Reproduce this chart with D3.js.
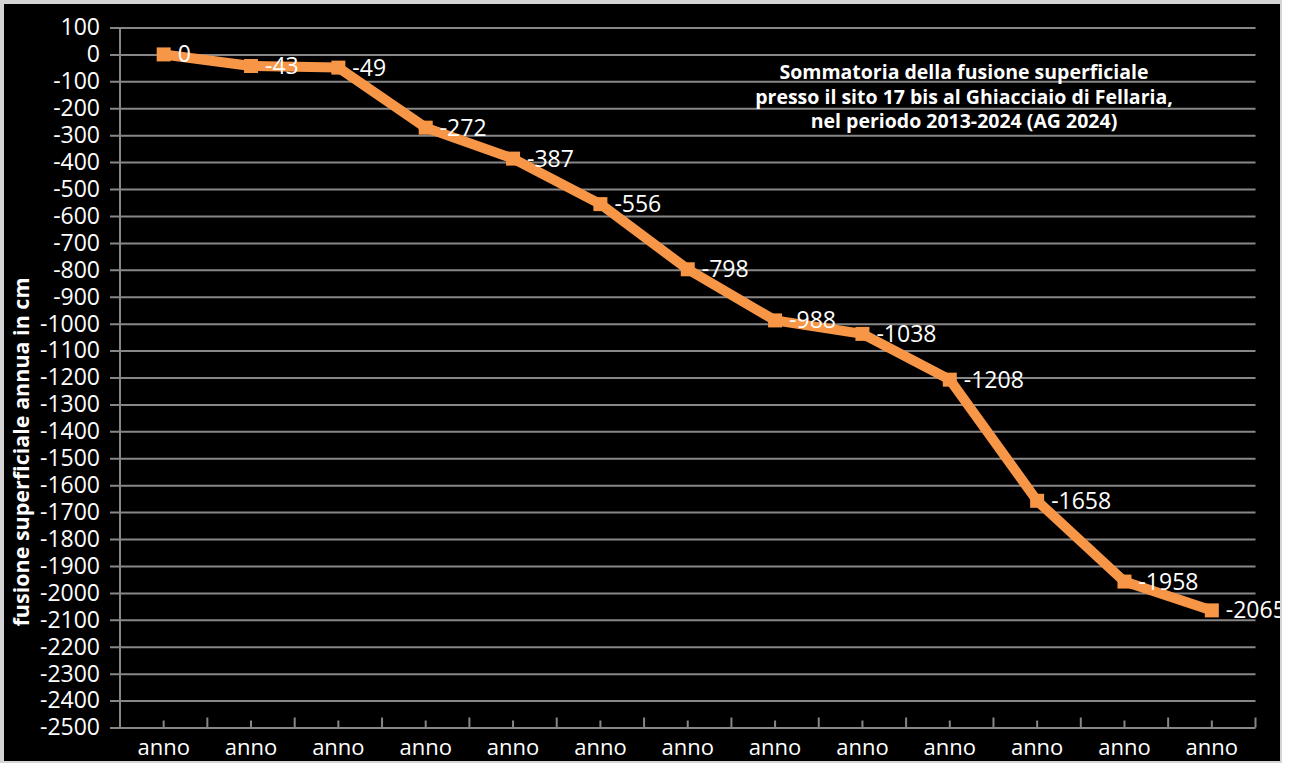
<!DOCTYPE html>
<html lang="it">
<head>
  <meta charset="UTF-8">
  <title>Sommatoria della fusione superficiale - Fellaria</title>
  <script src="https://d3js.org/d3.v7.min.js"></script>
  <style>
    html, body { margin: 0; padding: 0; background: #ffffff; }
    svg { display: block; }
    text { font-family: "Open Sans", "Liberation Sans", sans-serif; fill: #ffffff; }
  </style>
</head>
<body>
<script>
  // categories and values (cumulative surface melt, cm)
  const categories = ['anno', 'anno', 'anno', 'anno', 'anno', 'anno', 'anno',
                      'anno', 'anno', 'anno', 'anno', 'anno', 'anno'];
  const values = [0, -43, -49, -272, -387, -556, -798, -988, -1038, -1208, -1658, -1958, -2065];
  const yTicks = d3.range(100, -2501, -100);
  const titleLines = [
    'Sommatoria della fusione superficiale',
    'presso il sito 17 bis al Ghiacciaio di Fellaria,',
    'nel periodo 2013-2024 (AG 2024)'
  ];
  const yTitle = 'fusione superficiale annua in cm';

  const W = 1293, H = 763;
  const plot = { left: 120, right: 1255.5, top: 27.5, bottom: 727.5 };
  const orange = '#F79646';
  const gridColor = '#878787';
  const fmt = d => String(d); // plain hyphen, as in the original

  const svg = d3.select('body').append('svg')
    .attr('width', W)
    .attr('height', H);

  // frame
  svg.append('rect')
    .attr('x', 0).attr('y', 0)
    .attr('width', 1282).attr('height', H)
    .attr('fill', '#d4d4d4');
  svg.append('rect')
    .attr('x', 4).attr('y', 4)
    .attr('width', 1276).attr('height', 757)
    .attr('fill', '#000000');

  const x = d3.scaleBand()
    .domain(d3.range(categories.length))
    .range([plot.left, plot.right]);
  const y = d3.scaleLinear()
    .domain([-2500, 100])
    .range([plot.bottom, plot.top]);

  // y axis with gridlines
  const yAxis = svg.append('g')
    .attr('transform', `translate(${plot.left},0)`)
    .call(d3.axisLeft(y).tickValues(yTicks).tickSize(10).tickPadding(10).tickFormat(fmt));
  yAxis.select('.domain').remove();
  yAxis.selectAll('.tick line')
    .attr('stroke', gridColor)
    .attr('stroke-width', 2)
    .attr('x2', plot.right - plot.left)
    .attr('x1', -10);
  yAxis.selectAll('.tick text')
    .style('font-size', '23px')
    .attr('fill', '#ffffff');

  // vertical axis line
  svg.append('line')
    .attr('x1', plot.left).attr('x2', plot.left)
    .attr('y1', y(100)).attr('y2', y(-2500))
    .attr('stroke', gridColor).attr('stroke-width', 2);

  // x axis: ticks at category boundaries and centres
  const xg = svg.append('g');
  const bounds = d3.range(categories.length + 1).map(i => plot.left + i * x.bandwidth());
  xg.selectAll('line.b')
    .data(bounds.slice(1))
    .enter().append('line')
    .attr('x1', d => d).attr('x2', d => d)
    .attr('y1', y(-2500)).attr('y2', y(-2500) - 10)
    .attr('stroke', gridColor).attr('stroke-width', 2);
  xg.selectAll('line.c')
    .data(categories)
    .enter().append('line')
    .attr('x1', (d, i) => x(i) + x.bandwidth() / 2)
    .attr('x2', (d, i) => x(i) + x.bandwidth() / 2)
    .attr('y1', y(-2500)).attr('y2', y(-2500) - 7)
    .attr('stroke', gridColor).attr('stroke-width', 2);
  xg.selectAll('text')
    .data(categories)
    .enter().append('text')
    .attr('x', (d, i) => x(i) + x.bandwidth() / 2)
    .attr('y', 747)
    .attr('dy', '0.35em')
    .attr('text-anchor', 'middle')
    .style('font-size', '22px')
    .text(d => d);

  // line
  const cx = i => x(i) + x.bandwidth() / 2;
  const line = d3.line()
    .x((d, i) => cx(i))
    .y(d => y(d));
  svg.append('path')
    .datum(values)
    .attr('d', line)
    .attr('fill', 'none')
    .attr('stroke', orange)
    .attr('stroke-width', 10)
    .attr('stroke-linejoin', 'round');

  // markers
  svg.selectAll('rect.marker')
    .data(values)
    .enter().append('rect')
    .attr('class', 'marker')
    .attr('x', (d, i) => cx(i) - 7)
    .attr('y', d => y(d) - 7)
    .attr('width', 14).attr('height', 14)
    .attr('fill', orange);

  // data labels
  svg.selectAll('text.lbl')
    .data(values)
    .enter().append('text')
    .attr('class', 'lbl')
    .attr('x', (d, i) => cx(i) + 14)
    .attr('y', d => y(d))
    .attr('dy', '0.35em')
    .style('font-size', '23px')
    .text(fmt);

  // cover anything past the right edge of the frame
  svg.append('rect')
    .attr('x', 1280).attr('y', 0)
    .attr('width', 2).attr('height', H)
    .attr('fill', '#d4d4d4');
  svg.append('rect')
    .attr('x', 1282).attr('y', 0)
    .attr('width', W - 1282).attr('height', H)
    .attr('fill', '#ffffff');

  // title
  svg.append('text')
    .attr('x', 964)
    .attr('y', 79)
    .attr('text-anchor', 'middle')
    .style('font-size', '19.5px')
    .style('font-weight', 'bold')
    .selectAll('tspan')
    .data(titleLines)
    .enter().append('tspan')
    .attr('x', 964)
    .attr('dy', (d, i) => i === 0 ? 0 : 24.5)
    .text(d => d);

  // y axis title
  svg.append('text')
    .attr('transform', 'translate(29,452) rotate(-90)')
    .attr('text-anchor', 'middle')
    .style('font-size', '21.5px')
    .style('font-weight', 'bold')
    .text(yTitle);
</script>
</body>
</html>
